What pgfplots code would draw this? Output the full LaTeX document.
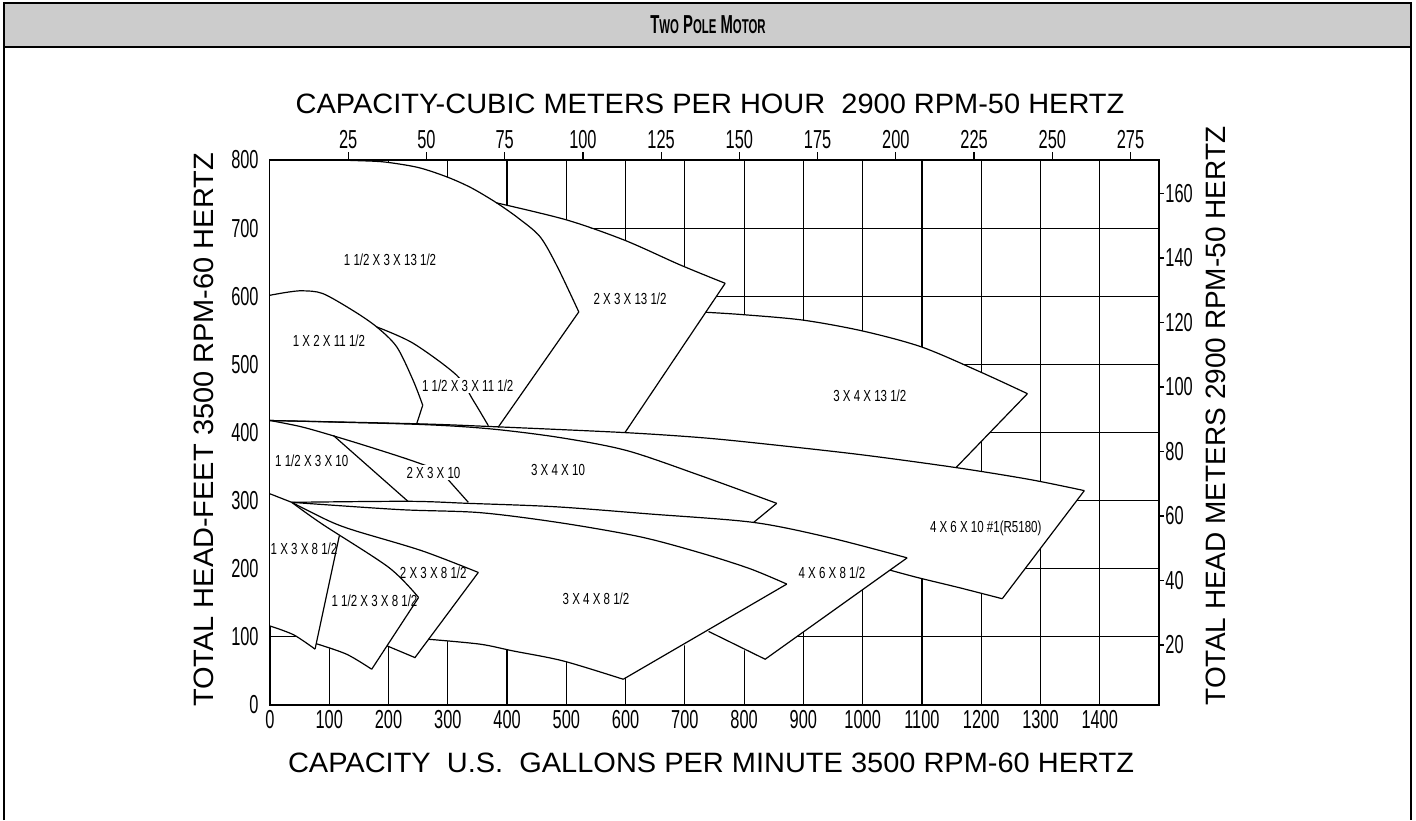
\documentclass[border=0pt]{standalone}
\usepackage{pgfplots}
\pgfplotsset{compat=1.18}
\usepackage{fontspec}
\setmainfont{Liberation Sans}
\newfontfamily\narrowfont{Liberation Sans}[FakeStretch=0.63]
\newfontfamily\lblfont{Liberation Sans}[FakeStretch=0.72]
\newfontfamily\titlefont{Liberation Sans}[FakeStretch=0.57]
\newfontfamily\widefont{Liberation Sans}[FakeStretch=1.035]
\definecolor{hdr}{HTML}{CCCCCC}
\pgfplotsset{
  ln/.style={black, line width=0.6pt, mark=none},
  cv/.style={ln, smooth, tension=0.5},
}
\tikzset{lbl/.style={font=\lblfont\fontsize{8}{8}\selectfont, inner sep=1pt}}
\begin{document}
\begin{tikzpicture}
\path[use as bounding box] (0,0) rectangle (708pt,410pt);
\fill[hdr] (2pt,386.5pt) rectangle (705.5pt,408.5pt);
\draw[line width=0.9pt] (2pt,0pt) -- (2pt,408.5pt) -- (705.5pt,408.5pt) -- (705.5pt,0pt);
\draw[line width=1.4pt] (2pt,386.5pt) -- (705.5pt,386.5pt);
\node[font=\titlefont\bfseries\fontsize{13}{13}\selectfont] at (354pt,397.8pt) {T{\fontsize{10}{10}\selectfont WO} P{\fontsize{10}{10}\selectfont OLE} M{\fontsize{10}{10}\selectfont OTOR}};

\node[font=\widefont\fontsize{14}{14}\selectfont] at (355pt,358pt) {CAPACITY-CUBIC METERS PER HOUR\ \ 2900 RPM-50 HERTZ};
\node[font=\widefont\fontsize{14}{14}\selectfont] at (355.5pt,28.5pt) {CAPACITY\ \ U.S.\ \ GALLONS PER MINUTE 3500 RPM-60 HERTZ};
\node[font=\widefont\fontsize{14}{14}\selectfont, rotate=90] at (102pt,195pt) {TOTAL HEAD-FEET 3500 RPM-60 HERTZ};
\node[font=\fontsize{14}{14}\selectfont, rotate=90] at (608pt,202pt) {TOTAL HEAD METERS 2900 RPM-50 HERTZ};

\begin{axis}[
  at={(135pt,57.5pt)}, anchor=south west, scale only axis,
  width=444.5pt, height=272.5pt,
  xmin=0, xmax=1500, ymin=0, ymax=800,
  xtick={0,100,...,1400}, ytick={0,100,...,800},
  grid=major, grid style={black, line width=0.6pt},
  major tick length=0pt,
  axis line style={black, line width=0.9pt},
  tick label style={font=\narrowfont\fontsize{13}{13}\selectfont},
  /pgf/number format/assume math mode=true,
  /pgf/number format/1000 sep={},
  xticklabel style={inner sep=0pt, yshift=-2.5pt, anchor=north},
  yticklabel style={inner sep=0pt, xshift=-5.5pt, anchor=east},
  clip=false,
]
% white union of all coverage areas
\addplot[fill=white, draw=none] coordinates {
(0,800) (100,800) (150,799) (194,797) (250,789) (299,775) (340,759) (382.5,737)
(500.6,712) (599,682) (692,646) (768,619) (735,576.5) (798,573) (899,565) (1000,549)
(1099.6,525.5) (1199,488.7) (1278,457) (1157.5,348.5) (1282,331) (1374,314.7)
(1235.5,156) (1164,172) (1093,187) (1046,198) (835.5,67.2) (780,88) (700,88) (596,37.8)
(494.6,64.7) (410,79.4) (354.4,89.3) (267.6,96.5) (244.6,69.6) (197.5,86.8)
(171.6,52.5) (129.4,74.5) (78,90) (76,82) (40,103) (0,116)};

% 1 1/2 x 3 x 13 1/2
\addplot[cv] coordinates {(0,800) (100,800) (150,799) (194,797) (250,789) (299,775) (340,759) (382.5,737) (420,714) (456,687) (485,643) (521,577)};
\addplot[ln] coordinates {(521,577) (384.7,407.4)};
% 2 x 3 x 13 1/2
\addplot[cv] coordinates {(382.5,737) (500.6,712) (599,682) (692,646) (768,619)};
\addplot[ln] coordinates {(768,619) (599,400)};
% 3 x 4 x 13 1/2
\addplot[cv] coordinates {(735,576.5) (798,573) (899,565) (1000,549) (1099.6,525.5) (1199,488.7) (1278,457)};
\addplot[ln] coordinates {(1278,457) (1157.5,348.5)};
% 4 x 6 x 10 top
\addplot[cv] coordinates {(0,417.6) (248,412.8) (371,408.8) (595.6,400) (725.5,392.6) (826.8,384) (995.5,367.6) (1157.5,348.5) (1282,331) (1374,314.7)};
\addplot[ln] coordinates {(1374,314.7) (1235.5,156)};
\addplot[cv] coordinates {(1235.5,156) (1164,172) (1093,187) (1046,198)};
% 1 x 2 x 11 1/2
\addplot[cv] coordinates {(0,601.5) (30,606) (55,608) (89,604) (140,579) (180,555) (214,525.5) (241.5,476.5) (257.7,440)};
\addplot[ln] coordinates {(257.7,440) (247.5,412.8)};
% 1 1/2 x 3 x 11 1/2
\addplot[cv] coordinates {(180,555) (241.5,531) (315,484) (343,447) (368.4,410)};
% 3 x 4 x 10
\addplot[cv] coordinates {(0,417.6) (248,412) (371,405.4) (489,392.6) (602,373.5) (725.5,337) (855,296)};
\addplot[ln] coordinates {(855,296) (816,268)};
% 2 x 3 x 10
\addplot[cv] coordinates {(0,417.6) (50,409) (95.7,398) (160,381) (230.7,361.3) (287,344)};
\addplot[ln] coordinates {(287,344) (334.6,297.5)};
% 1 1/2 x 3 x 10
\addplot[ln] coordinates {(107,395.6) (233.4,298.5)};
% 300 ft line / 4 x 6 x 8 1/2 top
\addplot[ln] coordinates {(0,310) (36.6,297.5)};
\addplot[cv] coordinates {(36.6,297.5) (233.4,299) (334.9,296) (481.7,291) (641,280.4) (816,268) (945,245.5) (1075,216)};
\addplot[ln] coordinates {(1075,216) (835.5,67.2) (740,108)};
% 3 x 4 x 8 1/2
\addplot[cv] coordinates {(36.6,297.5) (219,286.8) (354,282.4) (489,267.6) (624,247) (725.5,223.5) (810,200) (872,177.5)};
\addplot[ln] coordinates {(872,177.5) (596,37.8)};
\addplot[cv] coordinates {(596,37.8) (494.6,64.7) (410,79.4) (354.4,89.3) (267.6,96.5)};
% 2 x 3 x 8 1/2
\addplot[cv] coordinates {(36.6,297.5) (100,270) (143.4,255.9) (256,226.5) (351.5,194.6)};
\addplot[ln] coordinates {(351.5,194.6) (244.6,69.6) (197.5,86.8)};
% 1 1/2 x 3 x 8 1/2
\addplot[cv] coordinates {(36.6,297.5) (88,265.6) (200.5,201.9) (250.7,157.8)};
\addplot[ln] coordinates {(250.7,157.8) (171.6,52.5)};
\addplot[cv] coordinates {(171.6,52.5) (129.4,74.5) (78,90)};
% 1 x 3 x 8 1/2
\addplot[ln] coordinates {(117,248.5) (76,82)};
\addplot[cv] coordinates {(76,82) (40,103) (0,116)};

% labels
\node[lbl] at (axis cs:202.5,653) {1 1/2 X 3 X 13 1/2};
\node[lbl] at (axis cs:607.5,597) {2 X 3 X 13 1/2};
\node[lbl] at (axis cs:99.5,535) {1 X 2 X 11 1/2};
\node[lbl, fill=white] at (axis cs:333.6,469) {1 1/2 X 3 X 11 1/2};
\node[lbl] at (axis cs:1012,454.4) {3 X 4 X 13 1/2};
\node[lbl] at (axis cs:70.4,358.8) {1 1/2 X 3 X 10};
\node[lbl, fill=white] at (axis cs:275.8,341) {2 X 3 X 10};
\node[lbl] at (axis cs:486,345.6) {3 X 4 X 10};
\node[lbl] at (axis cs:1207.6,258.8) {4 X 6 X 10 \#1(R5180)};
\node[lbl] at (axis cs:57.4,229.4) {1 X 3 X 8 1/2};
\node[lbl] at (axis cs:176.3,153) {1 1/2 X 3 X 8 1/2};
\node[lbl] at (axis cs:275.5,194.1) {2 X 3 X 8 1/2};
\node[lbl] at (axis cs:550,156) {3 X 4 X 8 1/2};
\node[lbl] at (axis cs:948,194) {4 X 6 X 8 1/2};
\end{axis}

% top axis: cubic meters per hour
\begin{axis}[
  at={(135pt,57.5pt)}, anchor=south west, scale only axis,
  width=444.5pt, height=272.5pt,
  xmin=0, xmax=284.1, ymin=0, ymax=1,
  axis x line*=top, axis y line=none,
  xtick={25,50,...,275}, tick align=outside, major tick length=3.75pt,
  axis line style={black, line width=0.9pt},
  tick style={black, line width=0.6pt},
  tick label style={font=\narrowfont\fontsize{13}{13}\selectfont},
  /pgf/number format/assume math mode=true,
  xticklabel style={inner sep=0pt, anchor=south, yshift=1.5pt},
]
\end{axis}

% right axis: meters
\begin{axis}[
  at={(135pt,57.5pt)}, anchor=south west, scale only axis,
  width=444.5pt, height=272.5pt,
  xmin=0, xmax=1, ymin=1.4, ymax=170.4,
  axis y line*=right, axis x line=none,
  ytick={20,40,...,160}, tick align=outside, major tick length=2.5pt,
  axis line style={black, line width=0.9pt},
  tick style={black, line width=0.6pt},
  tick label style={font=\narrowfont\fontsize{13}{13}\selectfont},
  /pgf/number format/assume math mode=true,
  yticklabel style={inner sep=0pt, anchor=west, xshift=0.5pt},
]
\end{axis}
\end{tikzpicture}
\end{document}
